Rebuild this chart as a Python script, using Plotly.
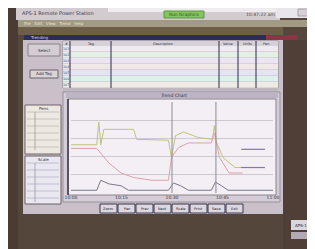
import plotly.graph_objects as go

W, H = 315, 249

time_ticks = [0, 1, 2, 3, 4]
time_labels = ["10:00", "10:15", "10:30", "10:45", "11:00"]

load_x = [0, 0.51, 0.55, 0.59, 0.65, 1.24, 1.30, 1.93, 1.99, 2.07, 2.23, 2.52, 2.80, 2.84, 2.88, 3.01, 3.25, 3.40]
load_y = [53, 53, 78, 53, 70, 70, 59, 58, 39, 63, 67, 61, 59, 74, 56, 39, 28, 28]

volt_x = [0, 0.51, 0.75, 0.99, 1.24, 1.60, 1.93, 1.99, 2.13, 2.33, 2.78, 2.84, 2.94, 3.13, 3.40]
volt_y = [49, 49, 33, 22, 17, 14, 14, 39, 50, 55, 55, 66, 39, 22, 22]

flow_x = [0, 0.51, 0.59, 0.75, 0.99, 1.14, 1.93, 2.03, 2.17, 2.33, 2.78, 2.86, 2.98, 3.11, 4]
flow_y = [3, 3, 14, 10, 8, 3, 3, 11, 8, 3, 3, 12, 8, 3, 3]

set_x = [3.37, 3.84, None, 3.37, 3.84]
set_y = [48, 48, None, 28, 28]

event_times = [2.0, 2.87]

button_labels = ["Zoom", "Pan", "Prev", "Next", "Scale", "Print", "Save", "Exit"]
table_rows = ["101", "102", "103", "104", "105", "106", "107"]
row_colors = ["#efe9f0", "#e4efe6", "#ece4f2", "#f0e8e6", "#e6e4f4", "#def0ea", "#efebe4"]

fig = go.Figure()

def P(x, y):
    return x / W, 1 - y / H

def rect(x0, y0, x1, y1, fill, line=None, lw=0):
    a, b = P(x0, y0)
    c, d = P(x1, y1)
    fig.add_shape(type="rect", xref="paper", yref="paper", x0=a, y0=d, x1=c, y1=b,
                  fillcolor=fill, line=dict(color=line or fill, width=lw), layer="below")

def vline(x, y0, y1, color, w=1):
    a, b = P(x, y0)
    _, d = P(x, y1)
    fig.add_shape(type="line", xref="paper", yref="paper", x0=a, x1=a, y0=b, y1=d,
                  line=dict(color=color, width=w), layer="below")

def hline(x0, x1, y, color, w=1):
    a, b = P(x0, y)
    c, _ = P(x1, y)
    fig.add_shape(type="line", xref="paper", yref="paper", x0=a, x1=c, y0=b, y1=b,
                  line=dict(color=color, width=w), layer="below")

def text(x, y, s, size=5, color="#202030", anchor="left"):
    a, b = P(x, y)
    fig.add_annotation(xref="paper", yref="paper", x=a, y=b, text=s, showarrow=False,
                       xanchor=anchor, yanchor="middle",
                       font=dict(size=size, color=color, family="DejaVu Sans"))

# ---- screen chrome ----
rect(0, 0, 10, 249, "#4a3b33")
rect(8, 0, 272, 12, "#d2ccd0")
rect(100, 0, 272, 4, "#eeecef")
rect(268, 0, 315, 10, "#e8e6ea")
rect(290, 1, 312, 8, "#d6d0d6", "#a8a0a4", 1)
rect(156, 3, 196, 10, "#86c45e", "#5a9a44", 1)
text(176, 6.5, "Run Graphics", 4.5, "#2a5a22", "center")
text(12, 5, "APS-1 Remote Power Station", 5, "#3a3454")
text(236, 6.5, "10:47:22 am", 4.5, "#4a4450")
rect(10, 12, 315, 19, "#a29a84")
text(14, 15.5, "File   Edit   View   Trend   Help", 4, "#eee6c8")
rect(10, 19, 275, 27, "#6e5e48")
rect(16, 27, 290, 32, "#2c2c58")
rect(258, 27, 290, 32, "#8a3444")
text(20, 29.5, "Trending", 4, "#d0d0e8")
rect(275, 32, 315, 249, "#503f37")
rect(10, 206, 275, 249, "#55463b")
rect(15, 32, 275, 206, "#c9c0c9")

# left control panel
rect(20, 36, 52, 48, "#d4cdd3", "#8a8288", 1)
text(36, 42, "Select", 4, "#303040", "center")
rect(22, 62, 50, 70, "#dad3d8", "#6a6268", 1)
text(36, 66, "Add Tag", 4, "#303040", "center")

# table
rect(55, 33, 270, 80, "#ebe6ec", "#8c8490", 1)
rect(55, 33, 270, 38, "#d6d0d8")
for x, lbl in [(58, "#"), (82, "Tag"), (155, "Description"),
               (220, "Value"), (239, "Units"), (258, "Pen")]:
    text(x, 35.5, lbl, 3.5, "#303040", "center")
for i, (lbl, col) in enumerate(zip(table_rows, row_colors)):
    y0 = 38 + i * 6
    rect(55, y0, 270, y0 + 6, col)
    hline(55, 270, y0 + 6, "#aca4b4", 0.6)
    text(58, y0 + 3, lbl, 3.3, "#404050", "center")
for x in [62, 103, 211, 230, 248]:
    vline(x, 33, 80, "#2c2c44", 1)
rect(55, 80, 270, 84, "#c0b8c0")

# chart frame
rect(55, 84, 272, 194, "#d4ccd6", "#9a929a", 1)
rect(58, 84, 270, 90, "#bcb4c4")
text(165, 87, "Trend Chart", 4.5, "#33304a", "center")
rect(60, 91, 268, 187, "#f3eff5", "#8a828a", 1)
vline(60, 91, 187, "#3a3448", 1.5)

# legend boxes on the left
rect(17, 97, 53, 146, "#ede9e2", "#6a6268", 1)
text(35, 100, "Pens", 4, "#303040", "center")
for i in range(6):
    hline(19, 51, 104 + i * 7, "#b4aca0", 0.6)
rect(17, 148, 53, 196, "#e9e7f0", "#6a6268", 1)
text(35, 151, "Scale", 4, "#303040", "center")
for i in range(6):
    hline(19, 51, 155 + i * 7, "#aaa6ba", 0.6)
vline(27, 104, 142, "#8a8288", 0.6)
vline(27, 155, 194, "#8a8288", 0.6)

# buttons row
bx0, bw = 92, 18
for i, lbl in enumerate(button_labels):
    x0 = bx0 + i * bw
    rect(x0, 196, x0 + bw - 1, 205, "#ddd7df", "#3c3650", 1)
    text(x0 + (bw - 1) / 2, 200.5, lbl, 3.5, "#202030", "center")

# bottom right info box
rect(283, 212, 315, 222, "#dad6de")
text(285, 217, "APS-1 Gen", 4, "#202030")
rect(283, 224, 315, 231, "#b2aab2")

# ---- chart traces ----
fig.add_trace(go.Scatter(x=load_x, y=load_y, mode="lines", name="Load",
                         line=dict(color="#bcc57a", width=1)))
fig.add_trace(go.Scatter(x=volt_x, y=volt_y, mode="lines", name="Volts",
                         line=dict(color="#dca2aa", width=1)))
fig.add_trace(go.Scatter(x=flow_x, y=flow_y, mode="lines", name="Flow",
                         line=dict(color="#7a7888", width=1)))
fig.add_trace(go.Scatter(x=set_x, y=set_y, mode="lines", name="Setpoint",
                         line=dict(color="#8676aa", width=1.2)))
for t in event_times:
    fig.add_vline(x=t, line=dict(color="#8a8a96", width=1))

x0, y0 = P(63, 185)
x1, y1 = P(265, 94)
fig.update_layout(
    width=W, height=H, margin=dict(l=0, r=0, t=0, b=0),
    paper_bgcolor="#56473c", plot_bgcolor="#f8f5f9",
    showlegend=False,
    xaxis=dict(domain=[x0, x1], range=[0, 4], tickvals=time_ticks, ticktext=time_labels,
               showgrid=False, zeroline=False, automargin=False,
               tickfont=dict(size=4.5, color="#303040", family="DejaVu Sans"), ticklen=2),
    yaxis=dict(domain=[y0, y1], range=[0, 100], dtick=20, showgrid=True,
               gridcolor="#cdc8d2", gridwidth=0.6, zeroline=False, showticklabels=False,
               automargin=False),
)

fig.write_html("out.html")
